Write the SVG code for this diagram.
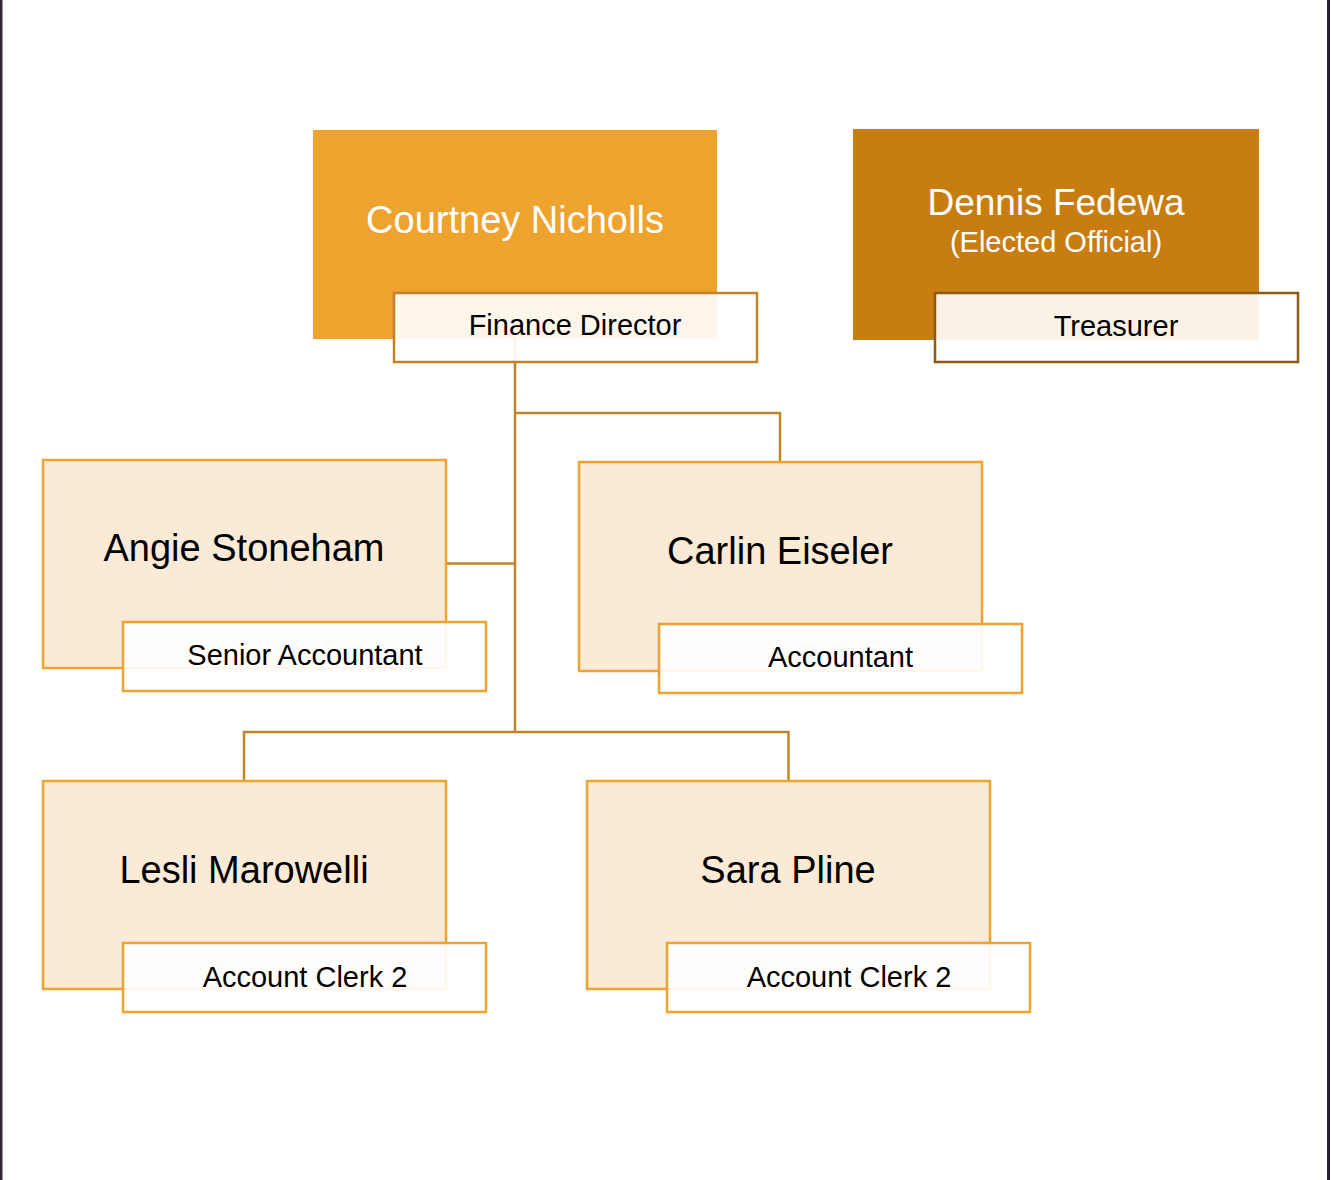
<svg xmlns="http://www.w3.org/2000/svg" width="1331" height="1180" viewBox="0 0 1331 1180">
<style>
.conn{fill:none;stroke:#C2822A;stroke-width:2.5}
.box{fill:#FBEAD5;stroke:#F0A230;stroke-width:2.5}
.lbl{fill:#FFFFFF;fill-opacity:0.9;stroke:#F0A230;stroke-width:2.5}
.name{font-family:"Liberation Sans",Arial,sans-serif;font-size:38px;fill:#000;text-anchor:middle}
.title{font-family:"Liberation Sans",Arial,sans-serif;font-size:29px;fill:#000;text-anchor:middle}
.wname{font-family:"Liberation Sans",Arial,sans-serif;fill:#FFFFFF;text-anchor:middle}
</style>
<rect x="0" y="0" width="1331" height="1180" fill="#FFFFFF"/>
<rect x="0" y="0" width="2.5" height="1180" fill="#33243A"/>
<rect x="1327" y="0" width="3" height="1180" fill="#2D1F33"/>
<g id="connectors">
<path class="conn" d="M515,339 V732"/>
<path class="conn" d="M515,413 H780 V462"/>
<path class="conn" d="M446,563.5 H515"/>
<path class="conn" d="M244,780 V732 H788.5 V780"/>
</g>
<g id="courtney">
<rect x="313" y="130" width="404" height="209" fill="#EEA32F"/>
<text class="wname" x="515" y="233" font-size="38">Courtney Nicholls</text>
<rect x="394" y="293" width="363" height="69" fill="#FFFFFF" fill-opacity="0.9" stroke="#C4802A" stroke-width="2.5"/>
<text class="title" x="575" y="335">Finance Director</text>
</g>
<g id="dennis">
<rect x="853" y="129" width="406" height="211" fill="#C87D11"/>
<text class="wname" x="1056" y="215" font-size="37">Dennis Fedewa</text>
<text class="wname" x="1056" y="252" font-size="29">(Elected Official)</text>
<rect x="935" y="293" width="363" height="69" fill="#FFFFFF" fill-opacity="0.9" stroke="#8E5B16" stroke-width="2.5"/>
<text class="title" x="1116" y="336">Treasurer</text>
</g>
<g id="angie">
<rect class="box" x="43" y="460" width="403" height="208"/>
<text class="name" x="244" y="561">Angie Stoneham</text>
<rect class="lbl" x="123" y="622" width="363" height="69"/>
<text class="title" x="305" y="665">Senior Accountant</text>
</g>
<g id="carlin">
<rect class="box" x="579" y="462" width="403" height="209"/>
<text class="name" x="780" y="564">Carlin Eiseler</text>
<rect class="lbl" x="659" y="624" width="363" height="69"/>
<text class="title" x="840.5" y="667">Accountant</text>
</g>
<g id="lesli">
<rect class="box" x="43" y="781" width="403" height="208"/>
<text class="name" x="244" y="883">Lesli Marowelli</text>
<rect class="lbl" x="123" y="943" width="363" height="69"/>
<text class="title" x="305" y="987">Account Clerk 2</text>
</g>
<g id="sara">
<rect class="box" x="587" y="781" width="403" height="208"/>
<text class="name" x="788" y="883">Sara Pline</text>
<rect class="lbl" x="667" y="943" width="363" height="69"/>
<text class="title" x="849" y="987">Account Clerk 2</text>
</g>
</svg>
